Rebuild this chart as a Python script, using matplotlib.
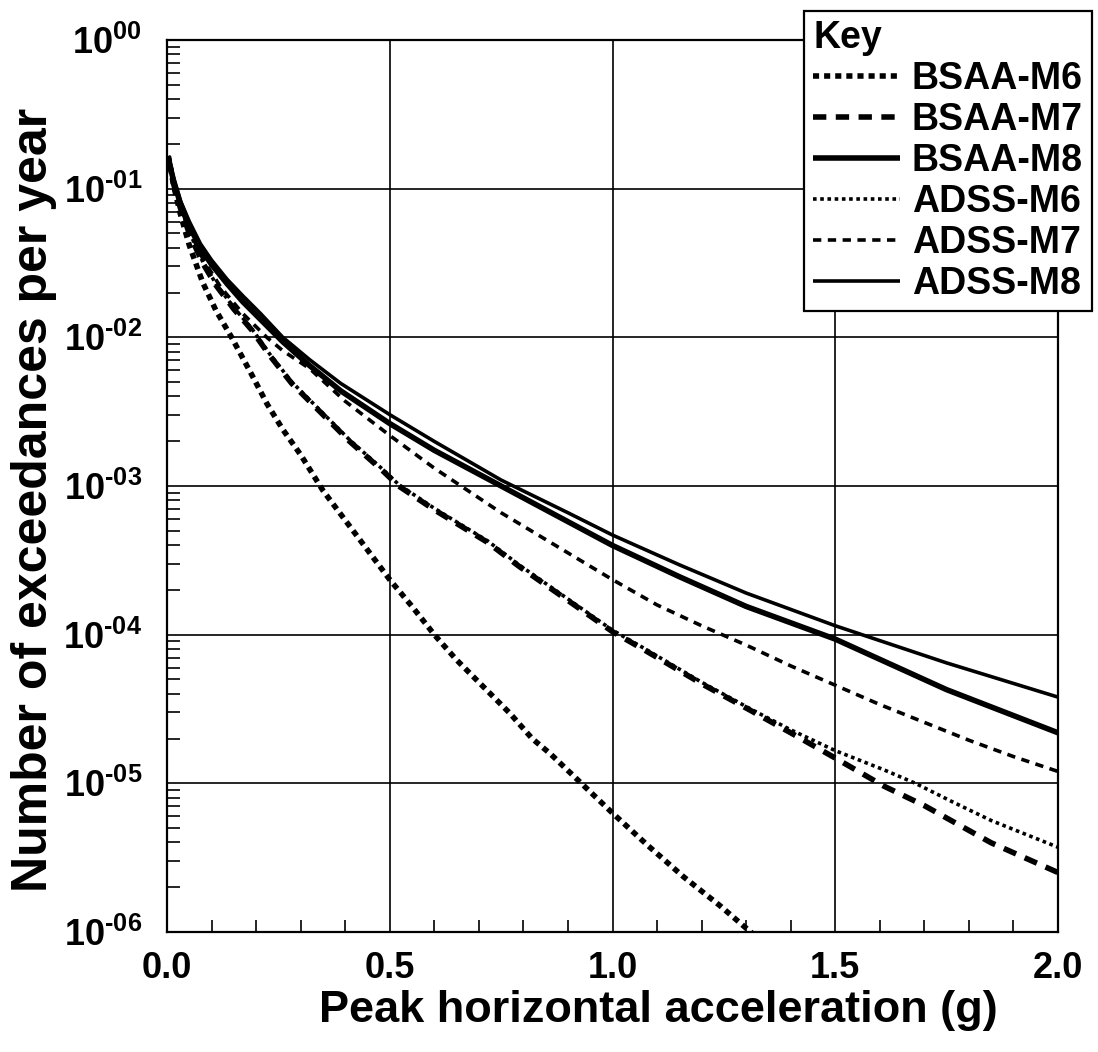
import numpy as np
import matplotlib
matplotlib.use('Agg')
import matplotlib.pyplot as plt
from matplotlib.ticker import FixedLocator, FixedFormatter, LogLocator, MultipleLocator, NullFormatter

plt.rcParams['font.family'] = ['Liberation Sans', 'DejaVu Sans']
plt.rcParams['font.weight'] = 'bold'
plt.rcParams['mathtext.fontset'] = 'custom'
plt.rcParams['mathtext.rm'] = 'Liberation Sans:bold'
plt.rcParams['mathtext.bf'] = 'Liberation Sans:bold'

# 读出的数据 (x: g, y: log10 of exceedances per year)
x_bsaa_m6 = [0.003, 0.015, 0.03, 0.05, 0.08, 0.11, 0.145, 0.19, 0.225, 0.26, 0.30, 0.35, 0.41, 0.45,
             0.50, 0.55, 0.60, 0.65, 0.70, 0.77, 0.82, 0.86, 0.93, 1.00, 1.08, 1.16, 1.24, 1.31, 1.36]
log_bsaa_m6 = [-0.78, -0.98, -1.17, -1.38, -1.63, -1.82, -2.00, -2.25, -2.45, -2.62, -2.79, -3.03, -3.27, -3.43,
               -3.63, -3.81, -4.00, -4.17, -4.32, -4.53, -4.70, -4.80, -5.00, -5.20, -5.42, -5.63, -5.82, -6.00, -6.12]

x_bsaa_m7 = [0.003, 0.015, 0.03, 0.05, 0.08, 0.11, 0.15, 0.19, 0.23, 0.28, 0.34, 0.41, 0.485, 0.52, 0.60,
             0.72, 0.79, 0.90, 1.00, 1.07, 1.20, 1.31, 1.40, 1.50, 1.61, 1.70, 1.76, 1.85, 2.00]
log_bsaa_m7 = [-0.79, -0.97, -1.13, -1.30, -1.50, -1.65, -1.81, -1.95, -2.12, -2.31, -2.49, -2.70, -2.90, -3.00, -3.16,
               -3.38, -3.54, -3.77, -3.98, -4.10, -4.33, -4.51, -4.66, -4.83, -5.02, -5.15, -5.25, -5.40, -5.60]

x_bsaa_m8 = [0.003, 0.015, 0.03, 0.05, 0.075, 0.10, 0.135, 0.17, 0.21, 0.26, 0.32, 0.39, 0.50, 0.60,
             0.75, 0.90, 1.00, 1.15, 1.30, 1.50, 1.75, 2.00]
log_bsaa_m8 = [-0.80, -0.95, -1.10, -1.25, -1.40, -1.51, -1.64, -1.76, -1.88, -2.03, -2.19, -2.36, -2.58, -2.76,
               -3.00, -3.24, -3.40, -3.61, -3.81, -4.03, -4.37, -4.66]

x_adss_m6 = [0.003, 0.015, 0.03, 0.05, 0.08, 0.11, 0.15, 0.19, 0.23, 0.28, 0.34, 0.41, 0.485, 0.52, 0.60,
             0.72, 0.79, 0.90, 1.00, 1.07, 1.20, 1.31, 1.40, 1.50, 1.61, 1.68, 1.76, 1.85, 2.00]
log_adss_m6 = [-0.78, -0.96, -1.12, -1.29, -1.49, -1.64, -1.80, -1.94, -2.11, -2.30, -2.48, -2.69, -2.89, -2.99, -3.15,
               -3.37, -3.53, -3.76, -3.97, -4.09, -4.32, -4.50, -4.64, -4.78, -4.91, -5.00, -5.12, -5.25, -5.43]

x_adss_m7 = [0.003, 0.015, 0.03, 0.05, 0.08, 0.12, 0.17, 0.224, 0.26, 0.32, 0.40, 0.50, 0.60, 0.75,
             0.90, 1.00, 1.10, 1.20, 1.30, 1.40, 1.50, 1.60, 1.70, 1.80, 1.90, 2.00]
log_adss_m7 = [-0.78, -0.96, -1.12, -1.28, -1.47, -1.66, -1.84, -2.00, -2.09, -2.21, -2.43, -2.66, -2.88, -3.18,
               -3.45, -3.63, -3.80, -3.94, -4.07, -4.21, -4.34, -4.47, -4.59, -4.71, -4.82, -4.92]

x_adss_m8 = [0.003, 0.015, 0.03, 0.05, 0.075, 0.10, 0.135, 0.17, 0.21, 0.26, 0.32, 0.39, 0.50, 0.60,
             0.75, 0.90, 1.00, 1.15, 1.30, 1.50, 1.75, 2.00]
log_adss_m8 = [-0.78, -0.93, -1.08, -1.22, -1.37, -1.48, -1.61, -1.72, -1.84, -2.00, -2.15, -2.31, -2.52, -2.70,
               -2.96, -3.18, -3.33, -3.53, -3.72, -3.94, -4.19, -4.42]

labels = ['BSAA-M6', 'BSAA-M7', 'BSAA-M8', 'ADSS-M6', 'ADSS-M7', 'ADSS-M8']
xticks = [0.0, 0.5, 1.0, 1.5, 2.0]
xtick_labels = ['0.0', '0.5', '1.0', '1.5', '2.0']
yticks = [1e-6, 1e-5, 1e-4, 1e-3, 1e-2, 1e-1, 1e0]
ytick_labels = [r'$10^{\text{-06}}$', r'$10^{\text{-05}}$', r'$10^{\text{-04}}$', r'$10^{\text{-03}}$',
                r'$10^{\text{-02}}$', r'$10^{\text{-01}}$', r'$10^{\text{00}}$']

series = [
    (x_bsaa_m6, log_bsaa_m6, 4.0, (0, (1.1, 0.9))),
    (x_bsaa_m7, log_bsaa_m7, 4.0, (0, (2.4, 1.7))),
    (x_bsaa_m8, log_bsaa_m8, 4.0, '-'),
    (x_adss_m6, log_adss_m6, 2.6, (0, (1.0, 1.0))),
    (x_adss_m7, log_adss_m7, 2.6, (0, (2.3, 1.8))),
    (x_adss_m8, log_adss_m8, 2.6, '-'),
]

fig = plt.figure(figsize=(10.98, 10.52), dpi=100)
ax = fig.add_axes([167 / 1098, 1 - 932 / 1052, 891 / 1098, 892 / 1052])

for (xs, ls_log, lw, ls), lab in zip(series, labels):
    ax.plot(xs, np.power(10.0, ls_log), color='black', lw=lw, linestyle=ls,
            dash_capstyle='butt', solid_capstyle='butt', label=lab)

ax.set_yscale('log')
ax.set_xlim(0, 2)
ax.set_ylim(1e-6, 1)

ax.xaxis.set_major_locator(FixedLocator(xticks))
ax.xaxis.set_major_formatter(FixedFormatter(xtick_labels))
ax.xaxis.set_minor_locator(MultipleLocator(0.1))
ax.yaxis.set_major_locator(FixedLocator(yticks))
ax.yaxis.set_major_formatter(FixedFormatter(ytick_labels))
ax.yaxis.set_minor_locator(LogLocator(base=10, subs=np.arange(2, 10)))
ax.yaxis.set_minor_formatter(NullFormatter())

ax.tick_params(which='both', direction='in', top=False, right=False, labelsize=26, width=1.2, pad=14)
ax.tick_params(which='major', length=0)
ax.tick_params(which='minor', length=9)
ax.tick_params(axis='y', pad=18)
ax.grid(True, which='major', color='black', lw=1.2)

for sp in ax.spines.values():
    sp.set_linewidth(1.6)

ax.set_xlabel('Peak horizontal acceleration (g)', fontsize=32.5, fontweight='bold')
ax.set_ylabel('Number of exceedances per year', fontsize=36, fontweight='bold')
ax.xaxis.set_label_coords(0.551, -0.065)
ax.yaxis.set_label_coords(-0.123, 0.485)

leg = ax.legend(loc='upper right', bbox_to_anchor=(1092 / 1098, 1 - 11 / 1052), bbox_transform=fig.transFigure,
                title='Key', alignment='left', fancybox=False, framealpha=1, edgecolor='black',
                prop={'weight': 'bold', 'size': 27}, title_fontproperties={'weight': 'bold', 'size': 27},
                handlelength=2.3, handletextpad=0.32, labelspacing=0.13, borderpad=0.25, borderaxespad=0)
leg.get_frame().set_linewidth(1.6)

fig.savefig('out.png', dpi=100)
